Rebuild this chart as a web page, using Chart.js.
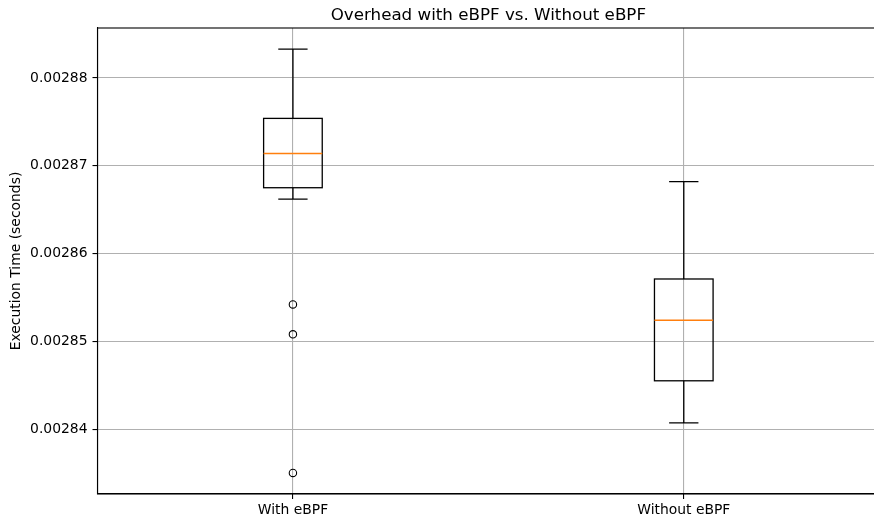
<!DOCTYPE html>
<html>
<head>
<meta charset="utf-8">
<script src="https://cdn.jsdelivr.net/npm/chart.js@4.4.1/dist/chart.umd.min.js"></script>
<style>
    html, body { margin: 0; padding: 0; background: #fff; overflow: hidden; }
    #boxChart { display: block; }
</style>
</head>
<body>
<canvas id="boxChart" width="884" height="523"></canvas>
<script>
// Box plot summary
const categories = ['With eBPF', 'Without eBPF'];
const whiskerLow = [0.0028662, 0.0028407];
const q1 = [0.0028675, 0.0028455];
const median = [0.0028714, 0.0028524];
const q3 = [0.0028754, 0.0028571];
const whiskerHigh = [0.0028833, 0.0028682];
const outliers = [[0.0028542, 0.0028508, 0.0028350], []];
const yTicks = [0.00284, 0.00285, 0.00286, 0.00287, 0.00288];
const chartTitle = 'Overhead with eBPF vs. Without eBPF';

const FONT = "'DejaVu Sans', sans-serif";

// outlier points as {x, y}
const outlierPoints = [];
outliers.forEach((list, i) => {
    list.forEach(v => outlierPoints.push({ x: i + 1, y: v }));
});

// draws boxes, whiskers, caps and medians via the chart scales
const boxPlugin = {
    id: 'boxes',
    afterDatasetsDraw(chart) {
        const ctx = chart.ctx;
        const xs = chart.scales.x;
        const ys = chart.scales.y;
        ctx.save();
        for (let i = 0; i < categories.length; i++) {
            const pos = i + 1;
            const xc = xs.getPixelForValue(pos);
            const xl = xs.getPixelForValue(pos - 0.075);
            const xr = xs.getPixelForValue(pos + 0.075);
            const capL = xs.getPixelForValue(pos - 0.0375);
            const capR = xs.getPixelForValue(pos + 0.0375);
            const yq1 = ys.getPixelForValue(q1[i]);
            const yq3 = ys.getPixelForValue(q3[i]);
            const ylo = ys.getPixelForValue(whiskerLow[i]);
            const yhi = ys.getPixelForValue(whiskerHigh[i]);
            const ymed = ys.getPixelForValue(median[i]);

            ctx.strokeStyle = '#000';
            ctx.lineWidth = 1.3;
            ctx.strokeRect(xl, yq3, xr - xl, yq1 - yq3);

            ctx.beginPath();
            ctx.moveTo(xc, yq3); ctx.lineTo(xc, yhi);
            ctx.moveTo(xc, yq1); ctx.lineTo(xc, ylo);
            ctx.moveTo(capL, yhi); ctx.lineTo(capR, yhi);
            ctx.moveTo(capL, ylo); ctx.lineTo(capR, ylo);
            ctx.stroke();

            ctx.strokeStyle = '#ff7f0e';
            ctx.beginPath();
            ctx.moveTo(xl, ymed); ctx.lineTo(xr, ymed);
            ctx.stroke();
        }
        // frame (right side falls off the page like in the original)
        const a = chart.chartArea;
        ctx.strokeStyle = '#000';
        ctx.lineWidth = 1.1;
        ctx.strokeRect(a.left, a.top, a.right - a.left, a.bottom - a.top);

        // title centred over the plot area, as matplotlib does
        ctx.fillStyle = '#000';
        ctx.font = '16.7px ' + FONT;
        ctx.textAlign = 'center';
        ctx.textBaseline = 'alphabetic';
        ctx.fillText(chartTitle, (a.left + a.right) / 2, 20);
        ctx.restore();
    }
};

const ctx = document.getElementById('boxChart').getContext('2d');
new Chart(ctx, {
    type: 'scatter',
    data: {
        datasets: [{
            label: 'Outliers',
            data: outlierPoints,
            pointRadius: 3.7,
            pointHoverRadius: 3.7,
            borderColor: '#000',
            borderWidth: 1.1,
            backgroundColor: 'rgba(0,0,0,0)'
        }]
    },
    options: {
        responsive: false,
        animation: false,
        layout: { padding: { left: 0, right: 1, top: 28, bottom: 0 } },
        plugins: {
            legend: { display: false },
            tooltip: { enabled: false },
            title: { display: false }
        },
        scales: {
            x: {
                type: 'linear',
                min: 0.5,
                max: 2.5,
                afterBuildTicks: (scale) => {
                    scale.ticks = categories.map((c, i) => ({ value: i + 1 }));
                },
                afterFit: (scale) => { scale.height = 29; },
                ticks: {
                    color: '#000',
                    font: { family: FONT, size: 13.9 },
                    padding: 3,
                    maxRotation: 0,
                    callback: (v) => categories[v - 1]
                },
                grid: {
                    color: '#b0b0b0',
                    lineWidth: 1.1,
                    tickColor: '#000',
                    tickLength: 5
                },
                border: { color: '#000', width: 1.1 }
            },
            y: {
                min: 0.0028326,
                max: 0.0028857,
                afterBuildTicks: (scale) => {
                    scale.ticks = yTicks.map(v => ({ value: v }));
                },
                afterFit: (scale) => { scale.width = 97.5; },
                ticks: {
                    color: '#000',
                    font: { family: FONT, size: 13.9 },
                    padding: 5,
                    callback: (v) => v.toFixed(5)
                },
                grid: {
                    color: '#b0b0b0',
                    lineWidth: 1.1,
                    tickColor: '#000',
                    tickLength: 5
                },
                border: { color: '#000', width: 1.1 },
                title: {
                    display: true,
                    text: 'Execution Time (seconds)',
                    color: '#000',
                    font: { family: FONT, size: 13.9 },
                    padding: { top: 8, bottom: 4 }
                }
            }
        }
    },
    plugins: [boxPlugin]
});
</script>
</body>
</html>
